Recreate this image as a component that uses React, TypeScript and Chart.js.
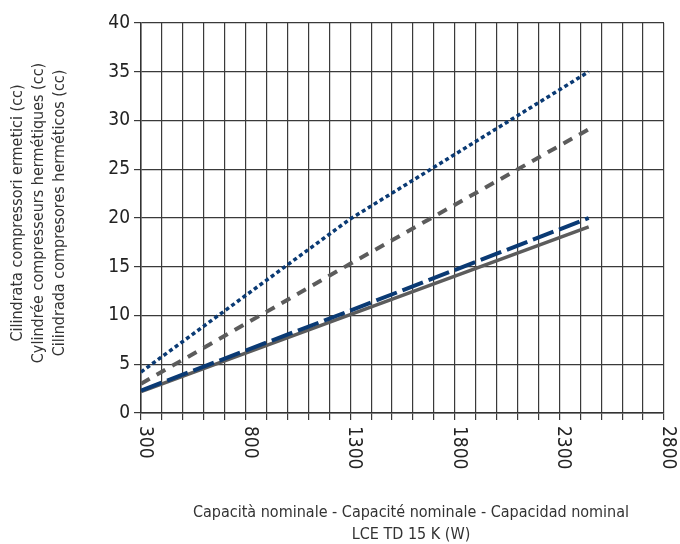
import React, { useEffect, useRef } from "react";
import { Chart, registerables } from "chart.js";

Chart.register(...registerables);

const capacityW = [300, 1300, 2440];
const seriesDottedBlue = [4.2, 19.9, 35.0];
const seriesDashedGray = [3.0, 15.3, 29.1];
const seriesLongDashBlue = [2.3, 10.5, 20.0];
const seriesSolidGray = [2.2, 10.1, 19.1];

const xTickLabels = [300, 800, 1300, 1800, 2300, 2800];

const yTitleLines = [
  "Cilindrata compressori ermetici (cc)",
  "Cylindrée compresseurs hermétiques (cc)",
  "Cilindrada compresores herméticos (cc)",
];
const xTitleLines = [
  "Capacità nominale - Capacité nominale - Capacidad nominal",
  "LCE TD 15 K (W)",
];

const FONT = "'DejaVu Sans Condensed', 'DejaVu Sans', sans-serif";
const BLUE = "#0a3a74";
const GRAY = "#5c5c5c";

const toPts = (vals: number[]) => vals.map((v, i) => ({ x: capacityW[i], y: v }));

export default function App() {
  const ref = useRef<HTMLCanvasElement | null>(null);
  useEffect(() => {
    document.body.style.margin = "0";
    const titles = {
      id: "titles",
      afterDraw(chart: any) {
        const ctx = chart.ctx;
        const xs = chart.scales.x;
        ctx.save();
        ctx.fillStyle = "#222";
        ctx.font = `19px ${FONT}`;
        ctx.textAlign = "left";
        ctx.textBaseline = "middle";
        xTickLabels.forEach((v) => {
          const px = xs.getPixelForValue(v);
          ctx.save();
          ctx.translate(px + 4, chart.chartArea.bottom + 13);
          ctx.rotate(Math.PI / 2);
          ctx.fillText(String(v), 0, 0);
          ctx.restore();
        });
        ctx.fillStyle = "#333";
        ctx.font = `16px ${FONT}`;
        ctx.textAlign = "center";
        const cols = [18, 39, 60];
        yTitleLines.forEach((t, i) => {
          ctx.save();
          ctx.translate(cols[i], 213);
          ctx.rotate(-Math.PI / 2);
          ctx.fillText(t, 0, 0);
          ctx.restore();
        });
        const ys = [513, 535];
        xTitleLines.forEach((t, i) => ctx.fillText(t, 411, ys[i]));
        ctx.restore();
      },
    };
    const chart = new Chart(ref.current!, {
      type: "line",
      data: {
        datasets: [
          {
            data: toPts(seriesDottedBlue),
            borderColor: BLUE,
            borderWidth: 3.5,
            borderDash: [4, 3],
            pointRadius: 0,
          },
          {
            data: toPts(seriesDashedGray),
            borderColor: GRAY,
            borderWidth: 4,
            borderDash: [10, 8],
            pointRadius: 0,
          },
          {
            data: toPts(seriesLongDashBlue),
            borderColor: BLUE,
            borderWidth: 4,
            borderDash: [22, 6],
            pointRadius: 0,
          },
          {
            data: toPts(seriesSolidGray),
            borderColor: GRAY,
            borderWidth: 3.5,
            pointRadius: 0,
          },
        ],
      },
      options: {
        animation: false,
        responsive: false,
        layout: { padding: { left: 0, top: 23, right: 16, bottom: 0 } },
        plugins: { legend: { display: false }, tooltip: { enabled: false } },
        scales: {
          x: {
            type: "linear",
            min: 300,
            max: 2800,
            afterFit: (s: any) => {
              s.height = 131;
            },
            ticks: {
              stepSize: 100,
              autoSkip: false,
              maxRotation: 0,
              font: { family: FONT, size: 19 },
              callback: () => "",
            },
            grid: { color: "#3a3a3a", lineWidth: 1.2, tickLength: 7, drawTicks: true },
            border: { color: "#333", width: 1.5 },
          },
          y: {
            min: 0,
            max: 40,
            afterFit: (s: any) => {
              s.width = 141;
            },
            ticks: {
              stepSize: 5,
              color: "#222",
              padding: 4,
              font: { family: FONT, size: 19 },
            },
            grid: { color: "#3a3a3a", lineWidth: 1.2, tickLength: 7 },
            border: { color: "#333", width: 1.5 },
          },
        },
      } as any,
      plugins: [titles],
    });
    return () => chart.destroy();
  }, []);
  return <canvas ref={ref} width={680} height={544} style={{ display: "block" }} />;
}
